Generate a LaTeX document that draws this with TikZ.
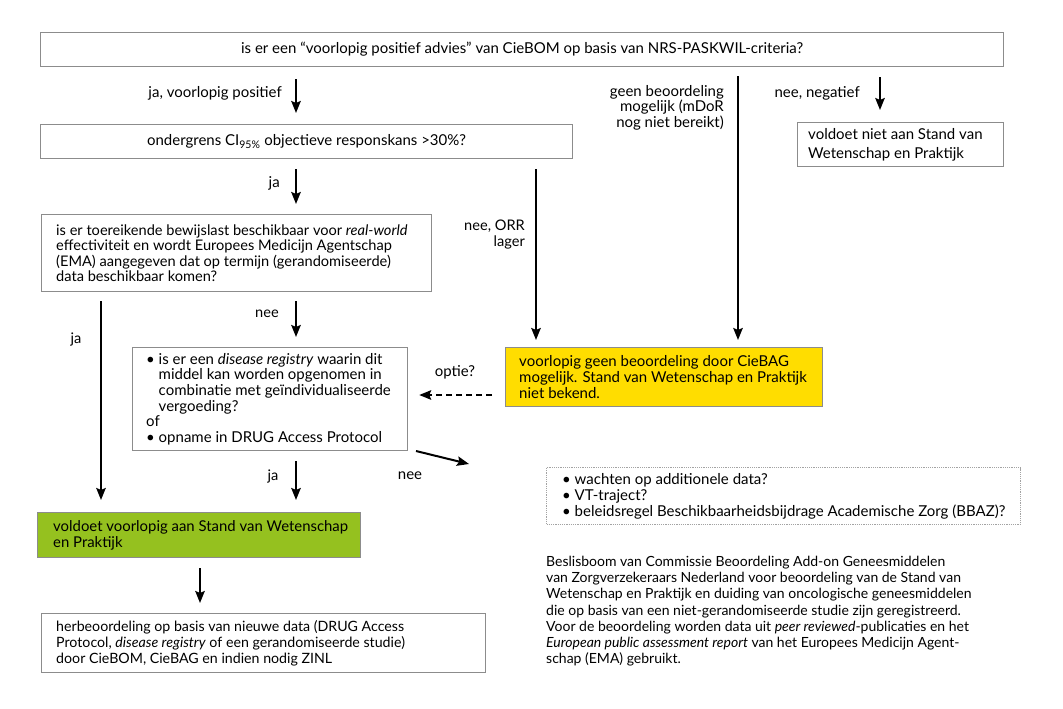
\documentclass[tikz,border=0pt]{standalone}
\usepackage{fontspec}
\setmainfont{Lato}
\usetikzlibrary{arrows.meta}
\definecolor{boxgray}{HTML}{8C8C8C}
\definecolor{ylw}{HTML}{FFDD00}
\definecolor{grn}{HTML}{95C11F}
\newcommand{\fs}[2]{\fontsize{#1}{#2}\selectfont}
\tikzset{
  box/.style={draw=boxgray, line width=1.2pt, inner sep=0pt, anchor=north west},
  txt/.style={inner sep=0pt, anchor=west, align=left},
  arr/.style={line width=2pt, -{Stealth[length=12pt,width=9.5pt,inset=2pt]}},
  lbl/.style={inner sep=0pt},
}
\begin{document}
\begin{tikzpicture}[x=1pt,y=-1pt]
\useasboundingbox[fill=white] (0,0) rectangle (1063,709);
% boxes
\node[box, minimum width=963, minimum height=34, font=\fs{15}{16}] (q1) at (40,32)
  {is er een “voorlopig positief advies” van CieBOM op basis van NRS-PASKWIL-criteria?};
\node[box, minimum width=532, minimum height=34, font=\fs{15}{16}] (ci) at (40,124)
  {ondergrens CI\textsubscript{95\%} objectieve responskans >30\%?};
\node[box, minimum width=206, minimum height=44] (niet) at (797,122) {};
\node[txt, font=\fs{15}{19}] (niett) at ([xshift=11pt]niet.west)
  {voldoet niet aan Stand van\\Wetenschap en Praktijk};
\node[box, minimum width=390, minimum height=77] (ema) at (41,214) {};
\node[txt, font=\fs{14.6}{15.5}] (emat) at ([xshift=15pt]ema.west)
  {is er toereikende bewijslast beschikbaar voor \emph{real-world}\\
   effectiviteit en wordt Europees Medicijn Agentschap\\
   (EMA) aangegeven dat op termijn (gerandomiseerde)\\
   data beschikbaar komen?};
\node[box, minimum width=275, minimum height=103] (dis) at (132,347) {};
\node[txt, font=\fs{15}{15.6}] (dist) at ([xshift=14pt]dis.west)
  {\textbullet\ is er een \emph{disease registry} waarin dit\\
   \phantom{\textbullet\ }middel kan worden opgenomen in\\
   \phantom{\textbullet\ }combinatie met geïndividualiseerde\\
   \phantom{\textbullet\ }vergoeding?\\
   of\\
   \textbullet\ opname in DRUG Access Protocol};
\node[box, fill=ylw, minimum width=317, minimum height=59] (ylwbox) at (505,347) {};
\node[txt, font=\fs{15}{16}] (ylwt) at ([xshift=14pt]ylwbox.west)
  {voorlopig geen beoordeling door CieBAG\\
   mogelijk. Stand van Wetenschap en Praktijk\\
   niet bekend.};
\node[box, draw=boxgray!80, densely dotted, line width=1pt, minimum width=474, minimum height=57] (wacht) at (546,467) {};
\node[txt, font=\fs{15}{16}] (wachtt) at ([xshift=16pt]wacht.west)
  {\textbullet\ wachten op additionele data?\\
   \textbullet\ VT-traject?\\
   \textbullet\ beleidsregel Beschikbaarheidsbijdrage Academische Zorg (BBAZ)?};
\node[box, fill=grn, minimum width=323, minimum height=45] (green) at (37,512) {};
\node[txt, font=\fs{14.9}{16}] (greent) at ([xshift=16pt]green.west)
  {voldoet voorlopig aan Stand van Wetenschap\\en Praktijk};
\node[box, minimum width=444, minimum height=59] (herb) at (41,613) {};
\node[txt, font=\fs{14.2}{15.7}] (herbt) at ([xshift=15pt]herb.west)
  {herbeoordeling op basis van nieuwe data (DRUG Access\\
   Protocol, \emph{disease registry} of een gerandomiseerde studie)\\
   door CieBOM, CieBAG en indien nodig ZINL};
% caption
\node[lbl, anchor=north west, align=left, font=\fs{14}{16.2}] (cap) at (546,556)
  {Beslisboom van Commissie Beoordeling Add-on Geneesmiddelen\\
   van Zorgverzekeraars Nederland voor beoordeling van de Stand van\\
   Wetenschap en Praktijk en duiding van oncologische geneesmiddelen\\
   die op basis van een niet-gerandomiseerde studie zijn geregistreerd.\\
   Voor de beoordeling worden data uit \emph{peer reviewed}-publicaties en het\\
   \emph{European public assessment report} van het Europees Medicijn Agent-\\
   schap (EMA) gebruikt.};
% x positions
\coordinate (x296) at (296,0);
\coordinate (x738) at (738,0);
\coordinate (x880) at (880,0);
\coordinate (x536) at (536,0);
\coordinate (x101) at (101,0);
\coordinate (x200) at (200,0);
\coordinate (y395) at (0,395);
\coordinate (nstart) at (416,451);
\coordinate (nend) at (469,464);
% connectors
\draw[arr, shorten <=12pt, shorten >=11pt] (q1.south -| x296) -- (ci.north -| x296);
\draw[arr, shorten <=9pt, shorten >=7pt] (q1.south -| x738) -- (ylwbox.north -| x738);
\draw[arr, shorten <=10pt, shorten >=12pt] (q1.south -| x880) -- (niet.north -| x880);
\draw[arr, shorten <=10pt, shorten >=10pt] (ci.south -| x296) -- (ema.north -| x296);
\draw[arr, shorten <=10pt, shorten >=7pt] (ci.south -| x536) -- (ylwbox.north -| x536);
\draw[arr, shorten <=9pt, shorten >=12pt] (ema.south -| x101) -- (green.north -| x101);
\draw[arr, shorten <=9pt, shorten >=10pt] (ema.south -| x296) -- (dis.north -| x296);
\draw[arr, dash pattern=on 6pt off 4pt, shorten <=13pt, shorten >=11pt] (ylwbox.west |- y395) -- (dis.east |- y395);
\draw[arr] (nstart) -- (nend);
\draw[arr, shorten <=10pt, shorten >=12pt] (dis.south -| x296) -- (green.north -| x296);
\draw[arr, shorten <=10pt, shorten >=10pt] (green.south -| x200) -- (herb.north -| x200);
% labels
\node[lbl, anchor=east, font=\fs{15}{16}] (l1) at (282,93) {ja, voorlopig positief};
\node[lbl, anchor=north east, align=right, font=\fs{15}{15.5}] (l2) at (724,85) {geen beoordeling\\mogelijk (mDoR\\nog niet bereikt)};
\node[lbl, anchor=east, font=\fs{15}{16}] (l3) at (860,93) {nee, negatief};
\node[lbl, anchor=east, font=\fs{15}{16}] (l4) at (280,183) {ja};
\node[lbl, anchor=north east, align=right, font=\fs{14.6}{15.5}] (l5) at (525,220) {nee, ORR\\lager};
\node[lbl, font=\fs{14.6}{16}] (l6) at (76,340) {ja};
\node[lbl, font=\fs{14.6}{16}] (l7) at (267,314) {nee};
\node[lbl, font=\fs{15}{16}] (l8) at (455,372) {optie?};
\node[lbl, font=\fs{15}{16}] (l9) at (410,476) {nee};
\node[lbl, font=\fs{14.6}{16}] (l10) at (273,476) {ja};
\end{tikzpicture}
\end{document}
